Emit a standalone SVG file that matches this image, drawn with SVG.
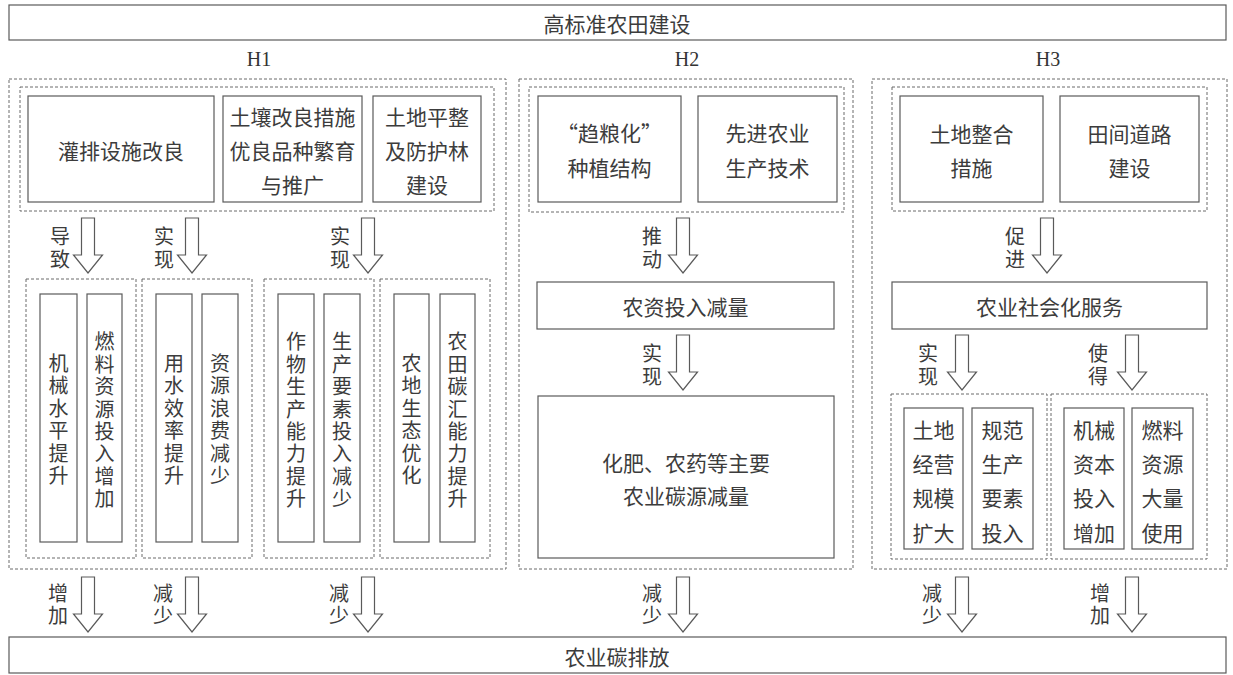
<svg xmlns="http://www.w3.org/2000/svg" xmlns:xlink="http://www.w3.org/1999/xlink" width="1233" height="675" viewBox="0 0 1233 675">
<style>
.box{fill:#fff;stroke:#5a5a5a;stroke-width:1.2}
.dash{fill:none;stroke:#6a6a6a;stroke-width:1;stroke-dasharray:3 2}
.arr{fill:#fff;stroke:#5a5a5a;stroke-width:1.2;stroke-linejoin:miter}
.t{font-family:"Noto Sans CJK SC","Noto Sans",sans-serif;font-size:21px;fill:#3c3c3c;text-anchor:middle;dominant-baseline:central}
.l{font-family:"Noto Sans CJK SC","Noto Sans",sans-serif;font-size:20px;fill:#3c3c3c;text-anchor:middle;dominant-baseline:central}
.v{font-family:"Noto Sans CJK SC","Noto Sans",sans-serif;font-size:20px;fill:#3c3c3c;text-anchor:middle;dominant-baseline:central}
.h{font-family:"Liberation Serif","Times New Roman",serif;font-size:20px;fill:#333;text-anchor:middle;dominant-baseline:central}
</style>
<defs>
<path id="ba" class="arr" d="M-6.5,0 H6.5 V37 H14.5 L0,55 L-14.5,37 H-6.5 Z"/>
</defs>
<rect width="1233" height="675" fill="#fff"/>

<g id="top">
<rect class="box" x="9" y="5" width="1217" height="35"/>
<text class="t" x="617" y="23">高标准农田建设</text>
</g>
<g id="bottom">
<rect class="box" x="9" y="637" width="1217" height="36"/>
<text class="t" x="617" y="656">农业碳排放</text>
</g>

<g id="labels">
<text class="h" x="259" y="59">H1</text>
<text class="h" x="687" y="59">H2</text>
<text class="h" x="1048" y="59">H3</text>
</g>

<g id="groups">
<rect class="dash" x="9" y="79" width="497" height="490"/>
<rect class="dash" x="519" y="79" width="334" height="490"/>
<rect class="dash" x="872" y="79" width="355" height="490"/>
<rect class="dash" x="20" y="87" width="474" height="124"/>
<rect class="dash" x="529" y="87" width="315" height="125"/>
<rect class="dash" x="892" y="87" width="315" height="124"/>
<rect class="dash" x="26" y="279" width="110" height="279"/>
<rect class="dash" x="142" y="279" width="110" height="279"/>
<rect class="dash" x="264" y="279" width="110" height="279"/>
<rect class="dash" x="380" y="279" width="110" height="279"/>
<rect class="dash" x="891" y="394" width="156" height="165"/>
<rect class="dash" x="1051" y="394" width="156" height="165"/>
</g>

<g id="h1-a">
<rect class="box" x="28" y="96" width="186" height="106"/>
<text class="t" x="121" y="150">灌排设施改良</text>
</g>
<g id="h1-b">
<rect class="box" x="223" y="96" width="139" height="106"/>
<text class="t" x="292.5" y="116"><tspan x="292.5" dy="0">土壤改良措施</tspan><tspan x="292.5" dy="34">优良品种繁育</tspan><tspan x="292.5" dy="34">与推广</tspan></text>
</g>
<g id="h1-c">
<rect class="box" x="373" y="96" width="108" height="106"/>
<text class="t" x="427" y="116"><tspan x="427" dy="0">土地平整</tspan><tspan x="427" dy="34">及防护林</tspan><tspan x="427" dy="34">建设</tspan></text>
</g>

<g id="h1-v1">
<rect class="box" x="40" y="294" width="37" height="248"/>
<text class="v" x="58.5" y="362"><tspan x="58.5" dy="0">机</tspan><tspan x="58.5" dy="22.4">械</tspan><tspan x="58.5" dy="22.4">水</tspan><tspan x="58.5" dy="22.4">平</tspan><tspan x="58.5" dy="22.4">提</tspan><tspan x="58.5" dy="22.4">升</tspan></text>
</g>
<g id="h1-v2">
<rect class="box" x="87" y="294" width="35" height="248"/>
<text class="v" x="104.5" y="340.4"><tspan x="104.5" dy="0">燃</tspan><tspan x="104.5" dy="22.4">料</tspan><tspan x="104.5" dy="22.4">资</tspan><tspan x="104.5" dy="22.4">源</tspan><tspan x="104.5" dy="22.4">投</tspan><tspan x="104.5" dy="22.4">入</tspan><tspan x="104.5" dy="22.4">增</tspan><tspan x="104.5" dy="22.4">加</tspan></text>
</g>
<g id="h1-v3">
<rect class="box" x="156" y="294" width="36" height="248"/>
<text class="v" x="174" y="362"><tspan x="174" dy="0">用</tspan><tspan x="174" dy="22.4">水</tspan><tspan x="174" dy="22.4">效</tspan><tspan x="174" dy="22.4">率</tspan><tspan x="174" dy="22.4">提</tspan><tspan x="174" dy="22.4">升</tspan></text>
</g>
<g id="h1-v4">
<rect class="box" x="202" y="294" width="36" height="248"/>
<text class="v" x="220" y="362"><tspan x="220" dy="0">资</tspan><tspan x="220" dy="22.4">源</tspan><tspan x="220" dy="22.4">浪</tspan><tspan x="220" dy="22.4">费</tspan><tspan x="220" dy="22.4">减</tspan><tspan x="220" dy="22.4">少</tspan></text>
</g>
<g id="h1-v5">
<rect class="box" x="278" y="294" width="36" height="248"/>
<text class="v" x="296" y="340.4"><tspan x="296" dy="0">作</tspan><tspan x="296" dy="22.4">物</tspan><tspan x="296" dy="22.4">生</tspan><tspan x="296" dy="22.4">产</tspan><tspan x="296" dy="22.4">能</tspan><tspan x="296" dy="22.4">力</tspan><tspan x="296" dy="22.4">提</tspan><tspan x="296" dy="22.4">升</tspan></text>
</g>
<g id="h1-v6">
<rect class="box" x="324" y="294" width="36" height="248"/>
<text class="v" x="342" y="340.4"><tspan x="342" dy="0">生</tspan><tspan x="342" dy="22.4">产</tspan><tspan x="342" dy="22.4">要</tspan><tspan x="342" dy="22.4">素</tspan><tspan x="342" dy="22.4">投</tspan><tspan x="342" dy="22.4">入</tspan><tspan x="342" dy="22.4">减</tspan><tspan x="342" dy="22.4">少</tspan></text>
</g>
<g id="h1-v7">
<rect class="box" x="394" y="294" width="35" height="248"/>
<text class="v" x="411.5" y="362"><tspan x="411.5" dy="0">农</tspan><tspan x="411.5" dy="22.4">地</tspan><tspan x="411.5" dy="22.4">生</tspan><tspan x="411.5" dy="22.4">态</tspan><tspan x="411.5" dy="22.4">优</tspan><tspan x="411.5" dy="22.4">化</tspan></text>
</g>
<g id="h1-v8">
<rect class="box" x="440" y="294" width="35" height="248"/>
<text class="v" x="457.5" y="340.4"><tspan x="457.5" dy="0">农</tspan><tspan x="457.5" dy="22.4">田</tspan><tspan x="457.5" dy="22.4">碳</tspan><tspan x="457.5" dy="22.4">汇</tspan><tspan x="457.5" dy="22.4">能</tspan><tspan x="457.5" dy="22.4">力</tspan><tspan x="457.5" dy="22.4">提</tspan><tspan x="457.5" dy="22.4">升</tspan></text>
</g>

<g id="h2-a">
<rect class="box" x="538" y="96" width="143" height="106"/>
<text class="t" x="609.5" y="132"><tspan x="609.5" dy="0">“趋粮化”</tspan><tspan x="609.5" dy="35">种植结构</tspan></text>
</g>
<g id="h2-b">
<rect class="box" x="698" y="96" width="139" height="106"/>
<text class="t" x="767.5" y="132"><tspan x="767.5" dy="0">先进农业</tspan><tspan x="767.5" dy="35">生产技术</tspan></text>
</g>
<g id="h2-c">
<rect class="box" x="537" y="282" width="297" height="47"/>
<text class="t" x="685.5" y="306">农资投入减量</text>
</g>
<g id="h2-d">
<rect class="box" x="538" y="396" width="296" height="162"/>
<text class="t" x="686" y="462"><tspan x="686" dy="0">化肥、农药等主要</tspan><tspan x="686" dy="33">农业碳源减量</tspan></text>
</g>

<g id="h3-a">
<rect class="box" x="900" y="96" width="143" height="106"/>
<text class="t" x="971.5" y="133"><tspan x="971.5" dy="0">土地整合</tspan><tspan x="971.5" dy="34">措施</tspan></text>
</g>
<g id="h3-b">
<rect class="box" x="1060" y="96" width="139" height="106"/>
<text class="t" x="1129.5" y="133"><tspan x="1129.5" dy="0">田间道路</tspan><tspan x="1129.5" dy="34">建设</tspan></text>
</g>
<g id="h3-c">
<rect class="box" x="892" y="282" width="315" height="47"/>
<text class="t" x="1049.5" y="306">农业社会化服务</text>
</g>
<g id="h3-v1">
<rect class="box" x="904" y="408" width="59" height="141"/>
<text class="t" x="933.5" y="429"><tspan x="933.5" dy="0">土地</tspan><tspan x="933.5" dy="34">经营</tspan><tspan x="933.5" dy="34">规模</tspan><tspan x="933.5" dy="35">扩大</tspan></text>
</g>
<g id="h3-v2">
<rect class="box" x="972" y="408" width="61" height="141"/>
<text class="t" x="1002.5" y="429"><tspan x="1002.5" dy="0">规范</tspan><tspan x="1002.5" dy="34">生产</tspan><tspan x="1002.5" dy="34">要素</tspan><tspan x="1002.5" dy="35">投入</tspan></text>
</g>
<g id="h3-v3">
<rect class="box" x="1064" y="408" width="60" height="141"/>
<text class="t" x="1094" y="429"><tspan x="1094" dy="0">机械</tspan><tspan x="1094" dy="34">资本</tspan><tspan x="1094" dy="34">投入</tspan><tspan x="1094" dy="35">增加</tspan></text>
</g>
<g id="h3-v4">
<rect class="box" x="1132" y="408" width="61" height="141"/>
<text class="t" x="1162.5" y="429"><tspan x="1162.5" dy="0">燃料</tspan><tspan x="1162.5" dy="34">资源</tspan><tspan x="1162.5" dy="34">大量</tspan><tspan x="1162.5" dy="35">使用</tspan></text>
</g>

<g id="connectors">
<use xlink:href="#ba" href="#ba" x="88" y="218"/>
<use xlink:href="#ba" href="#ba" x="192" y="218"/>
<use xlink:href="#ba" href="#ba" x="368" y="218"/>
<use xlink:href="#ba" href="#ba" x="683" y="218"/>
<use xlink:href="#ba" href="#ba" x="1047" y="218"/>
<use xlink:href="#ba" href="#ba" x="683" y="335"/>
<use xlink:href="#ba" href="#ba" x="962" y="335"/>
<use xlink:href="#ba" href="#ba" x="1132" y="335"/>
<use xlink:href="#ba" href="#ba" x="88" y="577"/>
<use xlink:href="#ba" href="#ba" x="192" y="577"/>
<use xlink:href="#ba" href="#ba" x="368" y="577"/>
<use xlink:href="#ba" href="#ba" x="683" y="577"/>
<use xlink:href="#ba" href="#ba" x="962" y="577"/>
<use xlink:href="#ba" href="#ba" x="1132" y="577"/>
<text class="l" x="60" y="235"><tspan x="60" dy="0">导</tspan><tspan x="60" dy="23">致</tspan></text>
<text class="l" x="164" y="235"><tspan x="164" dy="0">实</tspan><tspan x="164" dy="23">现</tspan></text>
<text class="l" x="340" y="235"><tspan x="340" dy="0">实</tspan><tspan x="340" dy="23">现</tspan></text>
<text class="l" x="652" y="235"><tspan x="652" dy="0">推</tspan><tspan x="652" dy="23">动</tspan></text>
<text class="l" x="1015" y="235"><tspan x="1015" dy="0">促</tspan><tspan x="1015" dy="23">进</tspan></text>
<text class="l" x="652" y="352"><tspan x="652" dy="0">实</tspan><tspan x="652" dy="23">现</tspan></text>
<text class="l" x="928" y="352"><tspan x="928" dy="0">实</tspan><tspan x="928" dy="23">现</tspan></text>
<text class="l" x="1098" y="352"><tspan x="1098" dy="0">使</tspan><tspan x="1098" dy="23">得</tspan></text>
<text class="l" x="58" y="592"><tspan x="58" dy="0">增</tspan><tspan x="58" dy="22">加</tspan></text>
<text class="l" x="163" y="592"><tspan x="163" dy="0">减</tspan><tspan x="163" dy="22">少</tspan></text>
<text class="l" x="339" y="592"><tspan x="339" dy="0">减</tspan><tspan x="339" dy="22">少</tspan></text>
<text class="l" x="652" y="592"><tspan x="652" dy="0">减</tspan><tspan x="652" dy="22">少</tspan></text>
<text class="l" x="932" y="592"><tspan x="932" dy="0">减</tspan><tspan x="932" dy="22">少</tspan></text>
<text class="l" x="1100" y="592"><tspan x="1100" dy="0">增</tspan><tspan x="1100" dy="22">加</tspan></text>
</g>
</svg>
